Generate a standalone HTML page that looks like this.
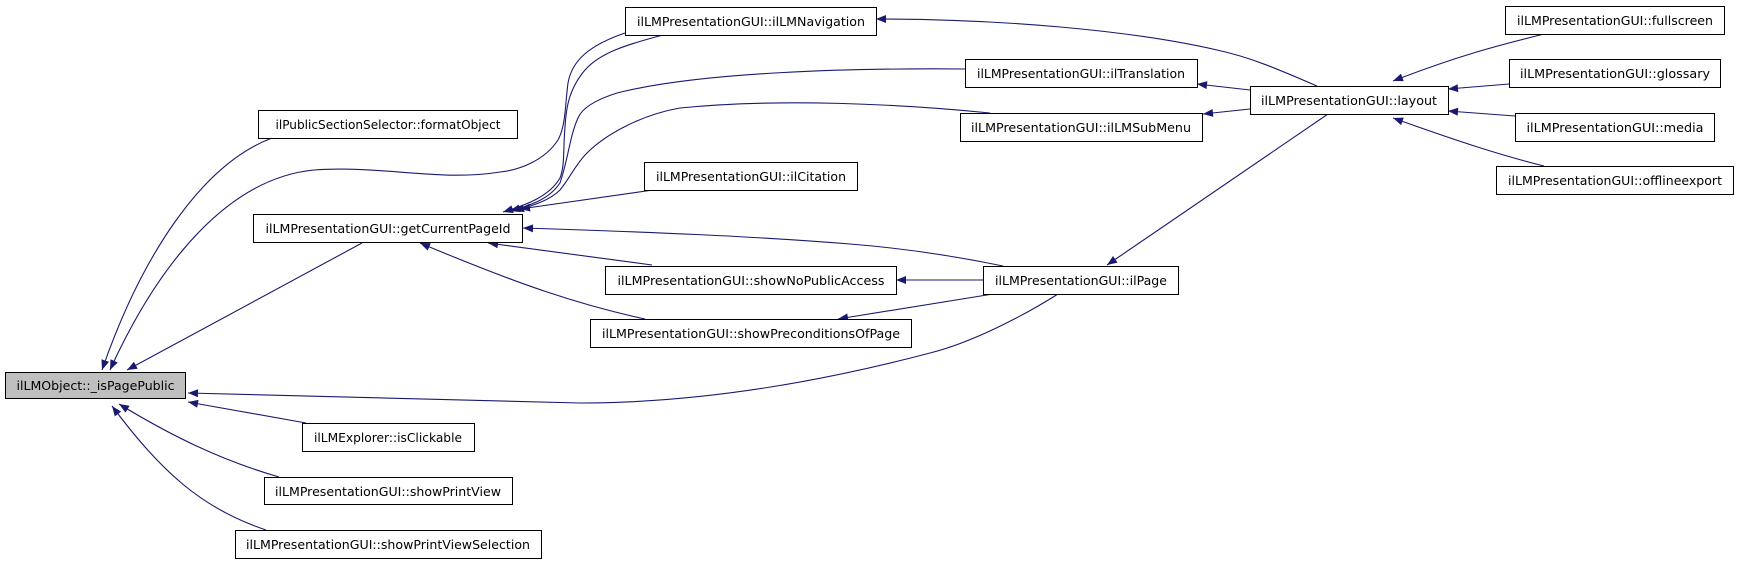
<!DOCTYPE html>
<html><head><meta charset="utf-8"><style>
html,body{margin:0;padding:0;background:#fff;}
svg{display:block;}
text{font-family:"DejaVu Sans","Liberation Sans",sans-serif;font-size:12px;fill:#000;}
</style></head><body>
<svg width="1739" height="564" viewBox="0 0 1739 564" xmlns="http://www.w3.org/2000/svg">
<defs>
<marker id="a" viewBox="0 0 10 8" refX="10" refY="4" markerWidth="11" markerHeight="8" markerUnits="userSpaceOnUse" orient="auto">
<path d="M0,0 L10,4 L0,8 z" fill="#191970"/>
</marker>
</defs>
<g fill="none" stroke="#191970" stroke-width="1.1" marker-end="url(#a)">
<!-- into _isPagePublic -->
<path d="M272,138 C200,165 140,260 102,370"/>
<path d="M625,33 C590,45 572,60 568,83 C565,105 566,125 558,140 C545,160 520,170 500,172 C440,182 380,165 314,170 C230,178 160,260 110,370"/>
<path d="M362,243 L127,370"/>
<path d="M1058,294 C1020,318 970,343 930,353 C820,382 700,403 580,403 L188,393"/>
<path d="M306,423 L188,402"/>
<path d="M279,477 C220,460 170,435 119,404"/>
<path d="M266,530 C200,508 160,470 112,406"/>
<!-- into getCurrentPageId -->
<path d="M663,35 C625,45 600,53 585,70 C568,90 566,110 565,127 C563,150 565,165 560,178 C550,195 530,204 503,212"/>
<path d="M965,69 C850,68 700,72 617,93 C595,100 582,108 578,118 C570,135 568,160 560,183 C550,198 535,204 510,211"/>
<path d="M990,113 C900,104 780,98 680,108 C640,115 605,135 587,153 C575,165 570,178 560,190 C550,200 535,205 514,211"/>
<path d="M653,190 L520,209"/>
<path d="M1003,266 C950,255 900,248 850,244 C750,236 650,232 523,228"/>
<path d="M652,265 L488,243"/>
<path d="M645,319 C580,305 520,285 420,243"/>
<!-- ilPage -> others -->
<path d="M983,280 L896,280"/>
<path d="M993,294 L838,319"/>
<!-- layout -->
<path d="M1317,86 C1280,70 1250,57 1217,50 C1130,30 1000,19 876,19"/>
<path d="M1250,90 L1197,84"/>
<path d="M1250,109 L1203,114"/>
<path d="M1328,114 L1107,265"/>
<path d="M1544,34 C1500,45 1460,55 1393,81"/>
<path d="M1509,84 L1448,89"/>
<path d="M1515,116 L1448,111"/>
<path d="M1544,166 C1500,155 1460,142 1393,118"/>
</g>
<g stroke="#000" stroke-width="1" fill="#fff">
<rect x="5.5" y="372.5" width="180" height="26" fill="#bfbfbf"/>
<rect x="258.5" y="110.5" width="259" height="28"/>
<rect x="253.5" y="214.5" width="269" height="28"/>
<rect x="302.5" y="423.5" width="172" height="28"/>
<rect x="264.5" y="477.5" width="248" height="27"/>
<rect x="235.5" y="530.5" width="306" height="28"/>
<rect x="625.5" y="7.5" width="251" height="28"/>
<rect x="965.5" y="59.5" width="232" height="28"/>
<rect x="960.5" y="113.5" width="242" height="28"/>
<rect x="644.5" y="162.5" width="213" height="28"/>
<rect x="605.5" y="266.5" width="291" height="28"/>
<rect x="983.5" y="266.5" width="195" height="28"/>
<rect x="590.5" y="319.5" width="321" height="28"/>
<rect x="1250.5" y="86.5" width="198" height="28"/>
<rect x="1505.5" y="6.5" width="219" height="28"/>
<rect x="1509.5" y="59.5" width="211" height="28"/>
<rect x="1515.5" y="113.5" width="199" height="28"/>
<rect x="1496.5" y="166.5" width="237" height="28"/>
</g>
<g text-anchor="middle">
<text x="95.5" y="390" textLength="158" lengthAdjust="spacingAndGlyphs">ilLMObject::_isPagePublic</text>
<text x="388" y="129" textLength="225" lengthAdjust="spacingAndGlyphs">ilPublicSectionSelector::formatObject</text>
<text x="388" y="233" textLength="245" lengthAdjust="spacingAndGlyphs">ilLMPresentationGUI::getCurrentPageId</text>
<text x="388" y="442" textLength="148" lengthAdjust="spacingAndGlyphs">ilLMExplorer::isClickable</text>
<text x="388" y="496" textLength="226" lengthAdjust="spacingAndGlyphs">ilLMPresentationGUI::showPrintView</text>
<text x="388" y="549" textLength="284" lengthAdjust="spacingAndGlyphs">ilLMPresentationGUI::showPrintViewSelection</text>
<text x="751" y="26" textLength="228" lengthAdjust="spacingAndGlyphs">ilLMPresentationGUI::ilLMNavigation</text>
<text x="1081" y="78" textLength="208" lengthAdjust="spacingAndGlyphs">ilLMPresentationGUI::ilTranslation</text>
<text x="1081" y="132" textLength="220" lengthAdjust="spacingAndGlyphs">ilLMPresentationGUI::ilLMSubMenu</text>
<text x="751" y="181" textLength="190" lengthAdjust="spacingAndGlyphs">ilLMPresentationGUI::ilCitation</text>
<text x="751" y="285" textLength="267" lengthAdjust="spacingAndGlyphs">ilLMPresentationGUI::showNoPublicAccess</text>
<text x="1081" y="285" textLength="172" lengthAdjust="spacingAndGlyphs">ilLMPresentationGUI::ilPage</text>
<text x="751" y="338" textLength="298" lengthAdjust="spacingAndGlyphs">ilLMPresentationGUI::showPreconditionsOfPage</text>
<text x="1349" y="105" textLength="176" lengthAdjust="spacingAndGlyphs">ilLMPresentationGUI::layout</text>
<text x="1615" y="25" textLength="196" lengthAdjust="spacingAndGlyphs">ilLMPresentationGUI::fullscreen</text>
<text x="1615" y="78" textLength="190" lengthAdjust="spacingAndGlyphs">ilLMPresentationGUI::glossary</text>
<text x="1615" y="132" textLength="177" lengthAdjust="spacingAndGlyphs">ilLMPresentationGUI::media</text>
<text x="1615" y="185" textLength="214" lengthAdjust="spacingAndGlyphs">ilLMPresentationGUI::offlineexport</text>
</g>
</svg>
</body></html>
